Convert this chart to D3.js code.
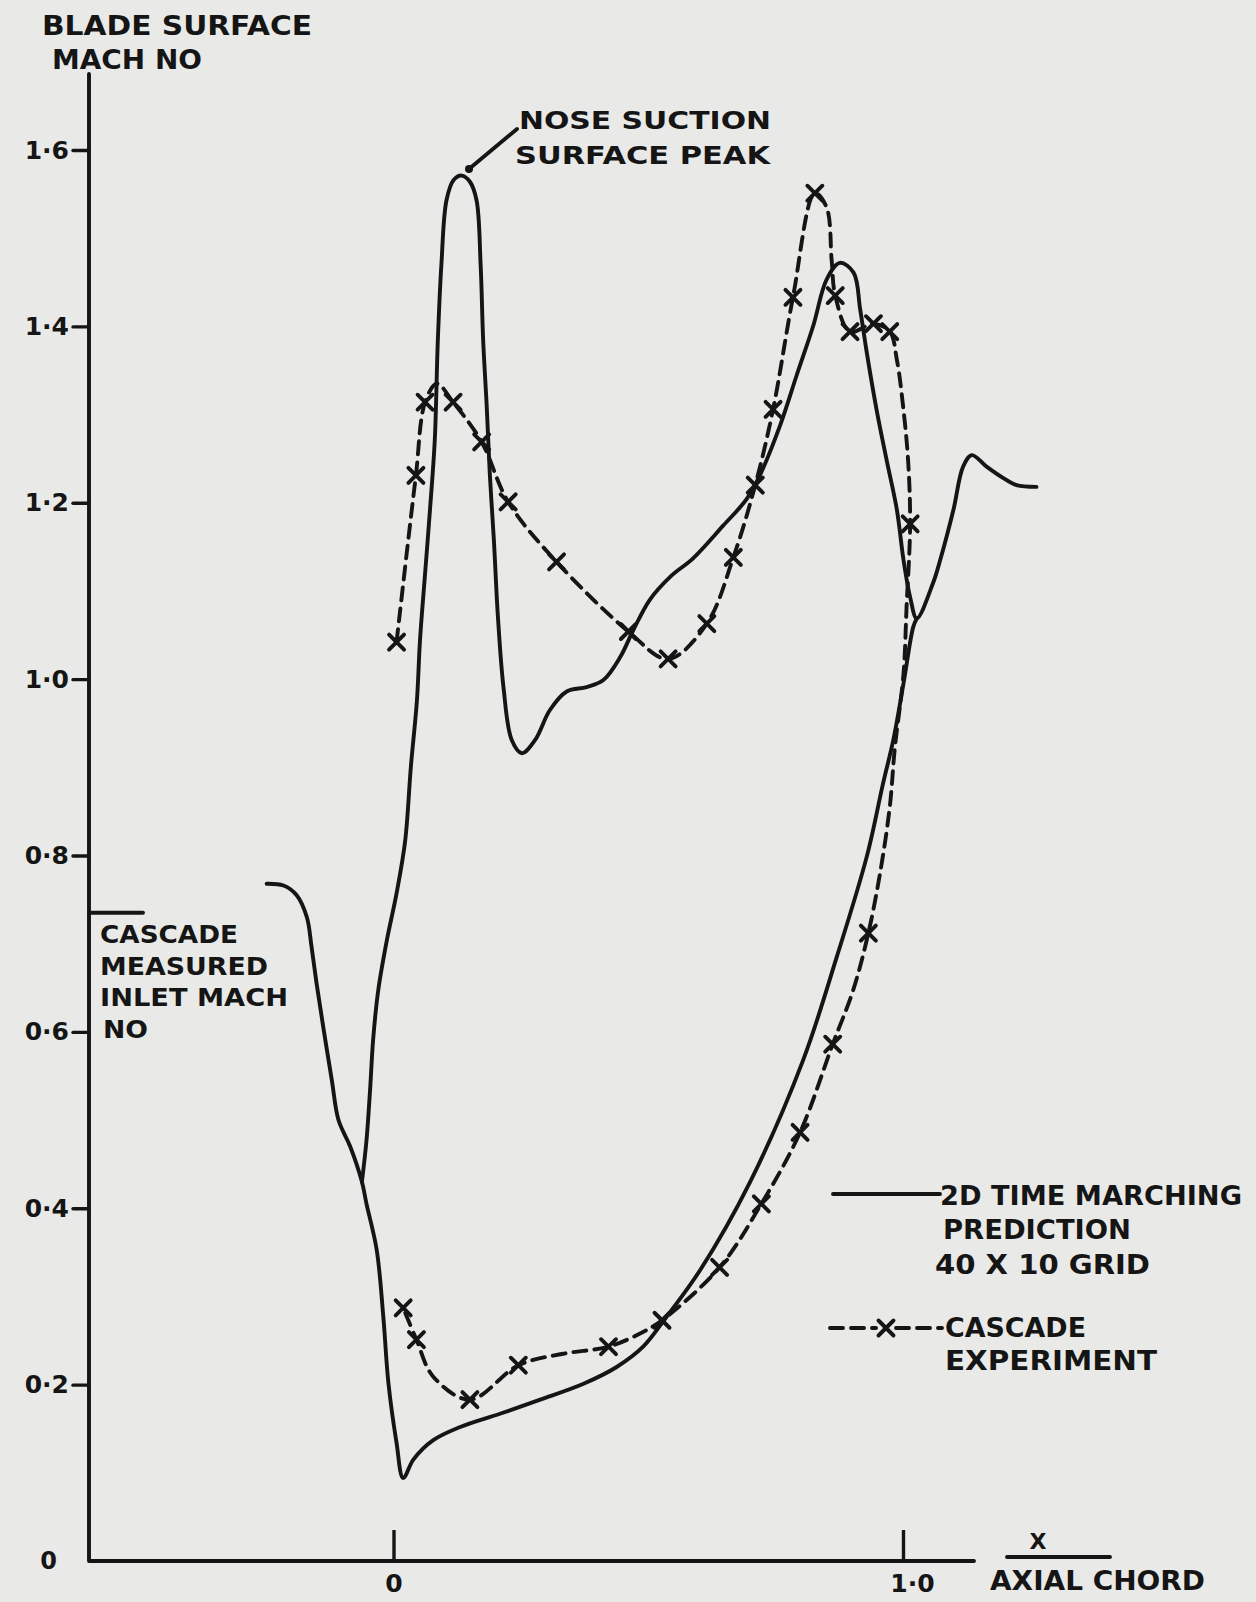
<!DOCTYPE html>
<html lang="en">
<head>
<meta charset="UTF-8">
<title>Blade surface Mach number</title>
<script src="https://d3js.org/d3.v7.min.js"></script>
<style>
  html, body { margin: 0; padding: 0; background: #e9e9e7; }
  svg { display: block; }
  .ink { fill: none; stroke: #151515; stroke-width: 3.9; stroke-linecap: round; stroke-linejoin: round; }
  text { font-family: "DejaVu Sans", sans-serif; font-weight: bold; fill: #151515; }
</style>
</head>
<body>
<svg id="chart"></svg>
<script>
// values: [x / axial chord, blade surface Mach no]
const yTicks = [0, 0.2, 0.4, 0.6, 0.8, 1.0, 1.2, 1.4, 1.6];
const xTicks = [0, 1.0];
const inletMach = 0.735;

// 2D time marching prediction: upstream, leading edge dip and pressure side
const predPressure = [
  [-0.249,0.768],[-0.216,0.766],[-0.190,0.755],[-0.170,0.730],[-0.161,0.697],[-0.151,0.655],
  [-0.138,0.606],[-0.121,0.545],[-0.108,0.500],[-0.085,0.470],[-0.062,0.430],[-0.053,0.405],
  [-0.033,0.353],[-0.020,0.277],[-0.010,0.202],[0.006,0.134],[0.019,0.094],[0.039,0.115],
  [0.078,0.137],[0.131,0.152],[0.209,0.167],[0.288,0.183],[0.373,0.201],[0.438,0.220],
  [0.490,0.243],[0.536,0.277],[0.602,0.330],[0.700,0.430],[0.804,0.568],[0.870,0.685],
  [0.929,0.799],[0.961,0.882],[0.981,0.931],[1.001,0.995],[1.020,1.059],[1.027,1.069]
];

// 2D time marching prediction: suction side and downstream
const predSuction = [
  [-0.062,0.430],[-0.053,0.477],[-0.046,0.534],[-0.040,0.591],[-0.030,0.647],[-0.013,0.704],
  [0.006,0.757],[0.023,0.817],[0.034,0.900],[0.046,0.976],[0.052,1.044],[0.062,1.120],
  [0.072,1.195],[0.081,1.271],[0.087,1.384],[0.094,1.470],[0.104,1.543],[0.118,1.566],
  [0.134,1.571],[0.150,1.564],[0.163,1.543],[0.171,1.470],[0.176,1.384],[0.183,1.309],
  [0.189,1.233],[0.197,1.158],[0.205,1.070],[0.216,0.990],[0.232,0.931],[0.252,0.916],
  [0.278,0.931],[0.307,0.965],[0.340,0.986],[0.379,0.991],[0.412,0.999],[0.445,1.025],
  [0.471,1.056],[0.503,1.090],[0.543,1.116],[0.588,1.137],[0.647,1.174],[0.693,1.204],
  [0.719,1.231],[0.759,1.288],[0.791,1.344],[0.824,1.401],[0.850,1.453],[0.876,1.472],
  [0.903,1.461],[0.916,1.419],[0.929,1.370],[0.948,1.306],[0.968,1.248],[0.988,1.192],
  [1.001,1.135],[1.014,1.093],[1.027,1.069],[1.059,1.109],[1.073,1.135],[1.099,1.192],
  [1.118,1.241],[1.135,1.254],[1.164,1.241],[1.197,1.228],[1.223,1.220],[1.262,1.218]
];

// cascade experiment, dashed trace (suction side, round trailing edge, pressure side)
const expLine = [
  [0.006,1.042],[0.029,1.158],[0.044,1.231],[0.062,1.314],[0.085,1.335],[0.117,1.314],
  [0.173,1.269],[0.225,1.201],[0.320,1.133],[0.461,1.054],[0.539,1.023],[0.615,1.063],
  [0.667,1.138],[0.710,1.220],[0.745,1.306],[0.784,1.433],[0.827,1.551],[0.850,1.535],
  [0.860,1.475],[0.867,1.435],[0.896,1.394],[0.942,1.403],[0.974,1.394],[0.988,1.362],
  [1.001,1.305],[1.010,1.248],[1.014,1.176],[1.007,1.082],[1.001,1.006],[0.984,0.922],
  [0.974,0.855],[0.955,0.780],[0.932,0.712],[0.902,0.647],[0.862,0.586],[0.798,0.486],
  [0.722,0.405],[0.640,0.333],[0.527,0.273],[0.484,0.258],[0.422,0.243],[0.333,0.235],
  [0.245,0.222],[0.150,0.183],[0.078,0.209],[0.045,0.251],[0.019,0.287]
];

// cascade experiment, measured points (x marks)
const expPoints = [
  [0.006,1.042],[0.044,1.231],[0.062,1.314],[0.117,1.314],[0.173,1.269],[0.225,1.201],
  [0.320,1.133],[0.461,1.054],[0.539,1.023],[0.615,1.063],[0.667,1.138],[0.710,1.220],
  [0.745,1.306],[0.784,1.433],[0.827,1.551],[0.867,1.435],[0.896,1.394],[0.942,1.403],
  [0.974,1.394],[1.014,1.176],[0.932,0.712],[0.862,0.586],[0.798,0.486],[0.722,0.405],
  [0.640,0.333],[0.527,0.273],[0.422,0.243],[0.245,0.222],[0.150,0.183],[0.045,0.251],
  [0.019,0.287]
];

const W = 1256, H = 1602;
const ink = "#151515";

const svg = d3.select("#chart").attr("width", W).attr("height", H);
svg.append("rect").attr("width", W).attr("height", H).attr("fill", "#e9e9e7");

const x = d3.scaleLinear().domain([0, 1]).range([393.5, 903]);
const y = d3.scaleLinear().domain([0, 1.6]).range([1561, 150]);

const axisLeftX = 89, axisTopY = 74, axisRightX = 974;
const fmt = d => d === 0 ? "0" : d3.format(".1f")(d).replace(".", "·");

// axis frame
svg.append("path").attr("class", "ink")
  .attr("d", `M${axisLeftX},${axisTopY}V${y(0)}H${axisRightX}`);

const yAxis = svg.append("g")
  .attr("transform", `translate(${axisLeftX},0)`)
  .attr("color", ink)
  .call(d3.axisLeft(y).tickValues(yTicks).tickSize(16).tickPadding(4).tickFormat(fmt));
yAxis.select(".domain").remove();
yAxis.selectAll("line").attr("stroke-width", 3.4).attr("stroke-linecap", "round");
yAxis.selectAll("text").attr("font-size", 25);
yAxis.selectAll(".tick").filter(d => d === 0).each(function () {
  d3.select(this).select("line").remove();
  d3.select(this).select("text").attr("x", -32).attr("font-size", 24);
});

const xAxis = svg.append("g")
  .attr("transform", `translate(0,${y(0)})`)
  .attr("color", ink)
  .call(d3.axisBottom(x).tickValues(xTicks).tickSize(-31).tickPadding(13).tickFormat(fmt));
xAxis.select(".domain").remove();
xAxis.selectAll("line").attr("stroke-width", 3.4);
xAxis.selectAll("text").attr("font-size", 25);
xAxis.selectAll(".tick").filter(d => d === 1).select("text").attr("dx", 9);

// curves
const line = d3.line().x(d => x(d[0])).y(d => y(d[1])).curve(d3.curveCatmullRom.alpha(0.5));

svg.append("path").attr("class", "ink").attr("d", line(predPressure));
svg.append("path").attr("class", "ink").attr("d", line(predSuction));
svg.append("path").attr("class", "ink").attr("stroke-dasharray", "13,8").attr("d", line(expLine));

function xMark(g, cx, cy, r) {
  g.append("path").attr("class", "ink").attr("stroke-width", 3.6)
    .attr("d", `M${cx - r},${cy - r}L${cx + r},${cy + r}M${cx + r},${cy - r}L${cx - r},${cy + r}`);
}
const marks = svg.append("g");
expPoints.forEach(p => xMark(marks, x(p[0]), y(p[1]), 7.5));

// inlet Mach no marker on the y axis
svg.append("line").attr("class", "ink")
  .attr("x1", axisLeftX).attr("x2", axisLeftX + 54)
  .attr("y1", y(inletMach)).attr("y2", y(inletMach));

function label(str, x0, yb, size, len) {
  svg.append("text").attr("x", x0).attr("y", yb).attr("font-size", size)
    .attr("textLength", len).attr("lengthAdjust", "spacingAndGlyphs").text(str);
}

// axis titles
label("BLADE SURFACE", 42, 35, 27, 270);
label("MACH NO", 52, 69, 27, 150);

svg.append("text").attr("x", 1038).attr("y", 1549).attr("font-size", 22)
  .attr("text-anchor", "middle").text("X");
svg.append("line").attr("class", "ink").attr("stroke-width", 3.2)
  .attr("x1", 1007).attr("x2", 1110).attr("y1", 1557).attr("y2", 1557);
label("AXIAL CHORD", 990, 1590, 26, 215);

// inlet annotation
label("CASCADE", 100, 943, 25, 138);
label("MEASURED", 100, 975, 25, 168);
label("INLET MACH", 100, 1006, 25, 188);
label("NO", 103, 1038, 25, 45);

// nose peak annotation
svg.append("circle").attr("cx", 469).attr("cy", 169).attr("r", 4).attr("fill", ink);
svg.append("line").attr("class", "ink").attr("stroke-width", 3.2)
  .attr("x1", 469).attr("y1", 169).attr("x2", 517).attr("y2", 129);
label("NOSE SUCTION", 519, 129, 24, 252);
label("SURFACE PEAK", 515, 164, 24, 255);

// legend
svg.append("line").attr("class", "ink")
  .attr("x1", 833).attr("x2", 940).attr("y1", 1194).attr("y2", 1194);
label("2D TIME MARCHING", 940, 1205, 26, 302);
label("PREDICTION", 943, 1239, 26, 188);
label("40 X 10 GRID", 935, 1274, 26, 215);

svg.append("line").attr("class", "ink").attr("stroke-dasharray", "13,8")
  .attr("x1", 830).attr("x2", 876).attr("y1", 1328).attr("y2", 1328);
svg.append("line").attr("class", "ink").attr("stroke-dasharray", "13,8")
  .attr("x1", 896).attr("x2", 942).attr("y1", 1328).attr("y2", 1328);
xMark(svg, 886, 1328, 7.5);
label("CASCADE", 945, 1337, 26, 141);
label("EXPERIMENT", 945, 1370, 26, 212);
</script>
</body>
</html>
